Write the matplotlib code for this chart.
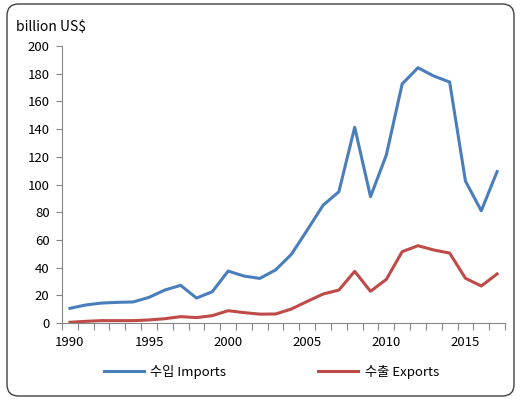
import matplotlib
matplotlib.use("Agg")
import matplotlib.pyplot as plt
from matplotlib.patches import FancyBboxPatch
from matplotlib.lines import Line2D
import numpy as np

plt.rcParams['font.family'] = ['Noto Sans CJK KR', 'DejaVu Sans']

years = list(range(1990, 2018))
imports = [10.6, 13.0, 14.4, 14.9, 15.2, 18.5, 23.8, 27.2, 18.0, 22.6, 37.5, 33.9,
           32.2, 38.3, 49.6, 67.1, 85.0, 94.8, 141.3, 91.2, 121.3, 172.6, 184.3,
           178.3, 174.0, 102.5, 81.0, 109.3]
exports = [0.5, 1.2, 1.7, 1.7, 1.7, 2.2, 3.1, 4.6, 3.9, 5.3, 8.9, 7.5,
           6.4, 6.5, 10.1, 15.6, 20.9, 23.8, 37.3, 22.9, 31.5, 51.5, 55.8,
           52.7, 50.5, 32.3, 26.7, 35.4]
xtick_labels = [1990, 1995, 2000, 2005, 2010, 2015]
yticks = list(range(0, 201, 20))

blue = '#4A7EBB'
red = '#BE4B48'

fig = plt.figure(figsize=(5.2, 4.0), dpi=100)
border = FancyBboxPatch((7/520, 4/400), 507/520, 392/400,
                        boxstyle="round,pad=0,rounding_size=0.022",
                        transform=fig.transFigure, fill=False,
                        edgecolor='#404040', linewidth=1.0, mutation_aspect=520/400)
fig.patches.append(border)

ax = fig.add_axes([62/520, 1-323/400, (505-62)/520, (323-46)/400])
ax.plot(years, imports, color=blue, lw=2.2, solid_joinstyle='round')
ax.plot(years, exports, color=red, lw=2.2, solid_joinstyle='round')

ax.set_xlim(1989.5, 2017.5)
ax.set_ylim(0, 200)
ax.set_yticks(yticks)
ax.set_xticks(xtick_labels)
ax.set_xticks(np.arange(1989.5, 2018, 1.0), minor=True)
ax.tick_params(axis='x', which='major', length=0, pad=9, labelsize=9.5, colors='black')
ax.tick_params(axis='x', which='minor', length=5, color='#868686', width=0.8)
ax.tick_params(axis='y', which='major', length=4, color='#868686', width=0.8,
               labelsize=9.5, pad=5)
for s in ['top', 'right']:
    ax.spines[s].set_visible(False)
for s in ['left', 'bottom']:
    ax.spines[s].set_color('#868686')
    ax.spines[s].set_linewidth(0.8)

fig.text(16/520, 1-27/400, 'billion US$', fontsize=10, va='center', ha='left')

h1 = Line2D([], [], color=blue, lw=2.2)
h2 = Line2D([], [], color=red, lw=2.2)
fig.legend([h1, h2], ['수입 Imports', '수출 Exports'], loc='center',
           bbox_to_anchor=(0.522, 1-372/400), ncol=2, frameon=False,
           fontsize=9.5, handlelength=3.0, columnspacing=7.0, handletextpad=0.5)

fig.savefig('out.png', dpi=100)
